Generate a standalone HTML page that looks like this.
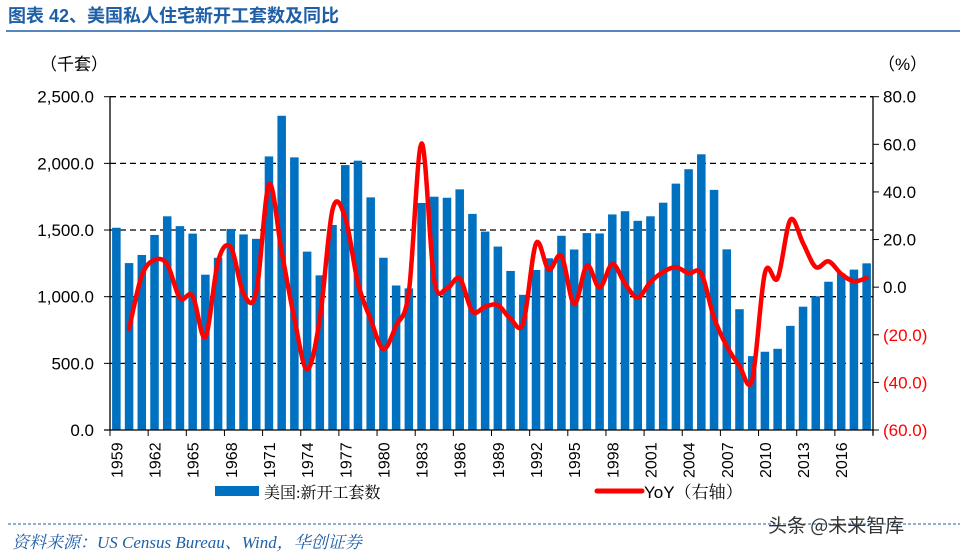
<!DOCTYPE html>
<html><head><meta charset="utf-8"><style>
body{margin:0;background:#fff;width:967px;height:553px;overflow:hidden;font-family:"Liberation Sans","Noto Sans CJK SC",sans-serif}
</style></head><body>
<svg id="s" width="967" height="553" xmlns="http://www.w3.org/2000/svg">
<text x="8" y="22" font-size="18" font-weight="bold" fill="#1f5fa8" font-family="Liberation Sans,'Noto Sans CJK SC',sans-serif">图表 42、美国私人住宅新开工套数及同比</text>
<line x1="6" y1="31" x2="960" y2="31" stroke="#1f5fa8" stroke-width="1.5"/>
<text x="40" y="70" font-size="17" font-family="Liberation Sans,'Noto Sans CJK SC',sans-serif">（千套）</text>
<text x="878" y="70" font-size="17" font-family="Liberation Sans,'Noto Sans CJK SC',sans-serif">（%）</text>
<g id="g"></g>
<rect x="215" y="486" width="44" height="10" fill="#0070c0"/>
<text x="264" y="498" font-size="16" font-family="Liberation Serif,'Noto Serif CJK SC',serif">美国:新开工套数</text>
<line x1="597" y1="491" x2="642" y2="491" stroke="#f00" stroke-width="5" stroke-linecap="round"/>
<text x="644" y="498" font-size="17" font-family="Liberation Sans,'Noto Serif CJK SC',sans-serif">YoY（右轴）</text>
<line x1="8" y1="524" x2="960" y2="524" stroke="#1f5fa8" stroke-width="1" stroke-dasharray="3,2"/>
<text x="12" y="548" font-size="17" font-style="italic" fill="#1f5fa8" font-family="Liberation Serif,'Noto Serif CJK SC',serif">资料来源：US Census Bureau、Wind，华创证券</text>
<text x="768" y="532" font-size="19" fill="#333" font-family="'Noto Sans CJK SC',sans-serif">头条 @未来智库</text>
</svg>
<script>
var v=[1517,1252,1313,1463,1603,1529,1473,1165,1292,1508,1467,1434,2052,2357,2045,1338,1160,1538,1987,2020,1745,1292,1084,1062,1703,1750,1742,1805,1621,1488,1376,1193,1014,1200,1288,1457,1354,1477,1474,1617,1641,1569,1603,1705,1848,1956,2068,1801,1355,906,554,587,609,781,925,1003,1112,1174,1203,1250];
var X0=110,X1=873,T=96.7,B=430,n=60,w=(X1-X0)/n,h='';
function yl(a){return B-(a/2500)*(B-T)}
function yr(a){return T+(80-a)*(B-T)/140}
for(var k=1;k<=5;k++){var y=yl(k*500);h+='<line x1="'+X0+'" y1="'+y+'" x2="'+X1+'" y2="'+y+'" stroke="#000" stroke-width="1.3" stroke-dasharray="6,4"/>';}
for(var i=0;i<n;i++){var x=X0+w*i+2.1;h+='<rect x="'+x+'" y="'+yl(v[i])+'" width="'+(w-4.2)+'" height="'+(B-yl(v[i]))+'" fill="#0070c0"/>';}
h+='<line x1="'+X0+'" y1="'+T+'" x2="'+X0+'" y2="'+B+'" stroke="#000" stroke-width="1.3"/>';
h+='<line x1="'+X1+'" y1="'+T+'" x2="'+X1+'" y2="'+(B+5)+'" stroke="#000" stroke-width="1.3"/>';
h+='<line x1="'+(X0-6)+'" y1="'+B+'" x2="'+X1+'" y2="'+B+'" stroke="#000" stroke-width="1.3"/>';
for(var k=0;k<=5;k++){var y=yl(k*500);h+='<line x1="'+(X0-6)+'" y1="'+y+'" x2="'+X0+'" y2="'+y+'" stroke="#000"/>';h+='<text x="'+(X0-16)+'" y="'+(y+6)+'" font-size="17" text-anchor="end">'+(k*500).toLocaleString('en-US',{minimumFractionDigits:1})+'</text>';}
for(var k=0;k<=7;k++){var a=80-k*20,y=yr(a);h+='<line x1="'+X1+'" y1="'+y+'" x2="'+(X1+6)+'" y2="'+y+'" stroke="#000"/>';var neg=a<0;h+='<text x="'+(X1+10)+'" y="'+(y+6)+'" font-size="17" fill="'+(neg?'#f00':'#000')+'">'+(neg?'('+(-a).toFixed(1)+')':a.toFixed(1))+'</text>';}
for(var i=0;i<=n;i+=3){var x=X0+w*i;h+='<line x1="'+x+'" y1="'+B+'" x2="'+x+'" y2="'+(B+6)+'" stroke="#000"/>';if(i<n){var cx=x+w/2+6;h+='<text transform="translate('+cx+','+(B+48)+') rotate(-90)" font-size="16">'+(1959+i)+'</text>';}}
var p=[];for(var i=1;i<n;i++){p.push([X0+w*(i+0.5),yr((v[i]/v[i-1]-1)*100)]);}
var d='M'+p[0][0]+','+p[0][1];
for(var i=0;i<p.length-1;i++){var p0=p[i-1]||p[i],p1=p[i],p2=p[i+1],p3=p[i+2]||p2;
d+=' C'+(p1[0]+(p2[0]-p0[0])/6)+','+(p1[1]+(p2[1]-p0[1])/6)+' '+(p2[0]-(p3[0]-p1[0])/6)+','+(p2[1]-(p3[1]-p1[1])/6)+' '+p2[0]+','+p2[1];}
h+='<path d="'+d+'" fill="none" stroke="#f00" stroke-width="4.5" stroke-linejoin="round" stroke-linecap="round"/>';
document.getElementById('g').innerHTML=h;
</script>
</body></html>
